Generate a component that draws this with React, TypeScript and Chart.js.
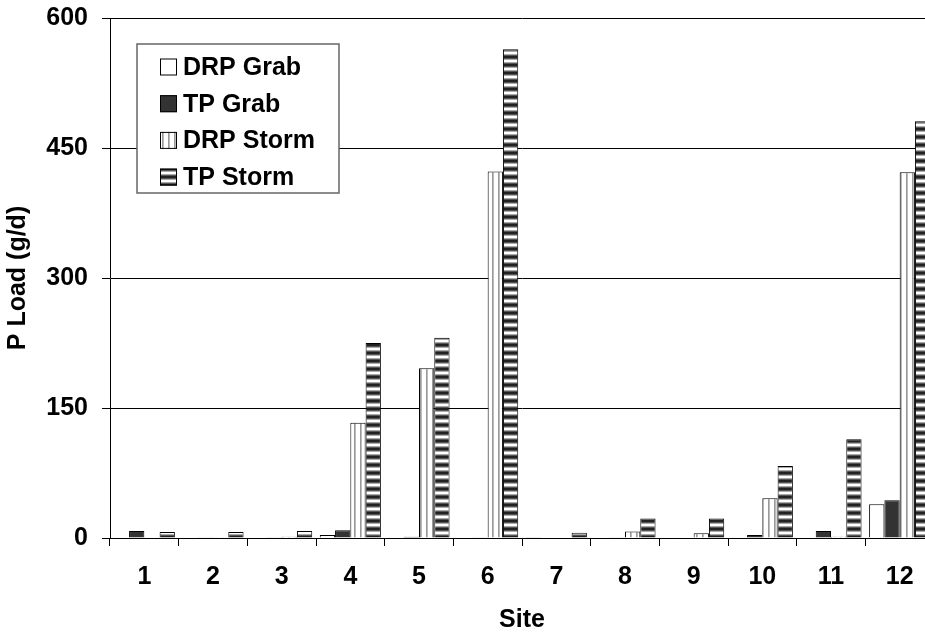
import React, { useEffect, useRef } from "react";
import { Chart, registerables } from "chart.js";

Chart.register(...registerables);

const sites = ["1", "2", "3", "4", "5", "6", "7", "8", "9", "10", "11", "12"];
const drpGrab = [1, 0.5, 0.5, 3.5, 1, 0.5, 0.3, 0.5, 0.2, 1, 0.5, 39];
const tpGrab = [8, 1, 1, 9, 1.5, 1, 0.5, 1, 0.5, 3.5, 8, 43.5];
const drpStorm = [1, 1, 1.5, 133, 196, 423, 0.5, 7.5, 5.5, 46, 1.5, 422];
const tpStorm = [7, 7, 8, 225, 231, 564, 6, 22.5, 22.5, 83, 114, 481];
const seriesNames = ["DRP Grab", "TP Grab", "DRP Storm", "TP Storm"];
const yTicks = [0, 150, 300, 450, 600];

const FONT = "'Liberation Sans', Arial, sans-serif";
const FS = 25;
const W = 934;
const H = 637;

function makeHStripe(): CanvasPattern | string {
  const c = document.createElement("canvas");
  c.width = 4;
  c.height = 8;
  const g = c.getContext("2d");
  if (!g) return "#555";
  const rows = ["#222", "#222", "#555", "#aaa", "#fff", "#fff", "#aaa", "#555"];
  rows.forEach((col, i) => {
    g.fillStyle = col;
    g.fillRect(0, i, 4, 1);
  });
  return g.createPattern(c, "repeat") || "#555";
}

function makeVStripe(): CanvasPattern | string {
  const c = document.createElement("canvas");
  c.width = 6;
  c.height = 4;
  const g = c.getContext("2d");
  if (!g) return "#ccc";
  const cols = ["#999", "#bbb", "#fff", "#fff", "#fff", "#fff"];
  cols.forEach((col, i) => {
    g.fillStyle = col;
    g.fillRect(i, 0, 1, 4);
  });
  return g.createPattern(c, "repeat") || "#ccc";
}

export default function App() {
  const ref = useRef<HTMLCanvasElement | null>(null);

  useEffect(() => {
    if (!ref.current) return;
    const hPat = makeHStripe();
    const vPat = makeVStripe();
    const fills: (string | CanvasPattern)[] = ["#ffffff", "#333333", vPat, hPat];
    const values = [drpGrab, tpGrab, drpStorm, tpStorm];

    const legendPlugin = {
      id: "boxLegend",
      afterDraw(chart: any) {
        const ctx = chart.ctx;
        const x0 = 137, y0 = 44, w = 202, h = 149;
        ctx.save();
        ctx.fillStyle = "#fff";
        ctx.fillRect(x0, y0, w, h);
        ctx.strokeStyle = "#666";
        ctx.lineWidth = 1.5;
        ctx.strokeRect(x0, y0, w, h);
        ctx.font = `bold ${FS}px ${FONT}`;
        ctx.textBaseline = "middle";
        ctx.textAlign = "left";
        seriesNames.forEach((name, i) => {
          const cy = 67 + i * 36.7;
          const sx = 160, s = 17;
          ctx.fillStyle = fills[i];
          ctx.fillRect(sx, cy - s / 2, s, s);
          ctx.strokeStyle = "#000";
          ctx.lineWidth = 1;
          ctx.strokeRect(sx + 0.5, cy - s / 2 + 0.5, s - 1, s - 1);
          ctx.fillStyle = "#000";
          ctx.fillText(name, 183, cy + 1);
        });
        ctx.restore();
      },
    };

    const chart = new Chart(ref.current, {
      type: "bar",
      data: {
        labels: sites,
        datasets: seriesNames.map((name, i) => ({
          label: name,
          data: values[i],
          backgroundColor: fills[i] as any,
          borderColor: "#000",
          borderWidth: 1,
          categoryPercentage: 0.89,
          barPercentage: 1.0,
        })),
      },
      options: {
        responsive: false,
        animation: false,
        layout: { padding: { top: 18, left: 0, right: 0, bottom: 0 } },
        plugins: {
          legend: { display: false },
          tooltip: { enabled: false },
        },
        scales: {
          x: {
            grid: {
              drawOnChartArea: false,
              drawTicks: true,
              tickLength: 8,
              color: "#000",
              offset: true,
            },
            border: { color: "#000", width: 1 },
            ticks: {
              color: "#000",
              font: { family: FONT, size: FS, weight: "bold" },
              padding: 16,
            },
            title: {
              display: true,
              text: "Site",
              color: "#000",
              font: { family: FONT, size: FS, weight: "bold" },
              padding: { top: 0, bottom: 2 },
            },
            afterFit(s: any) {
              s.height = 99;
              s.paddingLeft = 0;
              s.paddingRight = 0;
            },
          },
          y: {
            min: 0,
            max: 600,
            afterBuildTicks(s: any) {
              s.ticks = yTicks.map((v) => ({ value: v }));
            },
            grid: {
              color: "#000",
              lineWidth: 1,
              tickLength: 8,
            },
            border: { color: "#000", width: 1 },
            ticks: {
              color: "#000",
              font: { family: FONT, size: FS, weight: "bold" },
              padding: 14,
            },
            title: {
              display: true,
              text: "P Load (g/d)",
              color: "#000",
              font: { family: FONT, size: FS, weight: "bold" },
              padding: { top: 3, bottom: 0 },
            },
            afterFit(s: any) {
              s.width = 110;
              s.paddingTop = 0;
              s.paddingBottom = 0;
            },
          },
        },
      },
      plugins: [legendPlugin],
    });
    return () => chart.destroy();
  }, []);

  return (
    <div style={{ position: "fixed", left: 0, top: 0, width: W, height: H }}>
      <canvas ref={ref} width={W} height={H} style={{ display: "block" }} />
    </div>
  );
}
